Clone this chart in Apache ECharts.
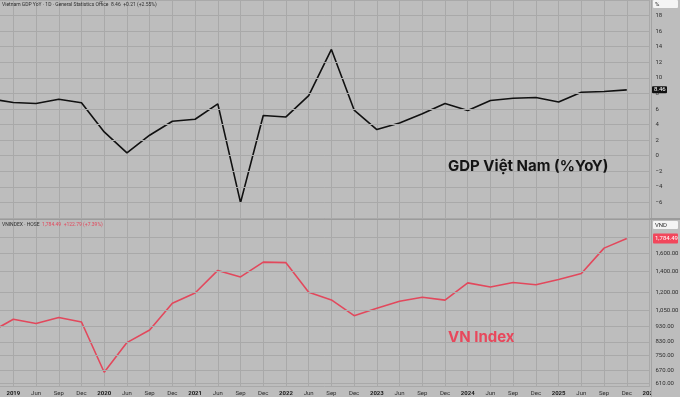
<!DOCTYPE html>
<html>
<head>
<meta charset="utf-8">
<title>GDP Việt Nam - VN Index</title>
<script src="https://cdn.jsdelivr.net/npm/echarts@6/dist/echarts.min.js"></script>
<style>
  html, body { margin: 0; padding: 0; background: #bdbdbd; }
  #main { width: 680px; height: 397px; }
</style>
</head>
<body>
<div id="main"></div>
<script>
// quarterly bars, first one sits just off the left edge
var quarters = ['Dec 2018',
  'Mar 2019', 'Jun 2019', 'Sep 2019', 'Dec 2019',
  'Mar 2020', 'Jun 2020', 'Sep 2020', 'Dec 2020',
  'Mar 2021', 'Jun 2021', 'Sep 2021', 'Dec 2021',
  'Mar 2022', 'Jun 2022', 'Sep 2022', 'Dec 2022',
  'Mar 2023', 'Jun 2023', 'Sep 2023', 'Dec 2023',
  'Mar 2024', 'Jun 2024', 'Sep 2024', 'Dec 2024',
  'Mar 2025', 'Jun 2025', 'Sep 2025', 'Dec 2025',
  'Mar 2026'];

// GDP YoY, %
var gdpYoY = [7.31,
  6.83, 6.70, 7.25, 6.80,
  3.06, 0.36, 2.63, 4.43,
  4.68, 6.65, -6.02, 5.16,
  4.98, 7.72, 13.65, 5.86,
  3.36, 4.21, 5.40, 6.70,
  5.80, 7.09, 7.38, 7.47,
  6.91, 8.15, 8.25, 8.46,
  null];

// VN-Index close per quarter
var vnIndex = [892.5,
  980.8, 949.9, 994.2, 961.0,
  662.3, 825.0, 905.2, 1103.9,
  1191.4, 1408.6, 1342.1, 1498.3,
  1492.2, 1197.6, 1132.1, 1007.1,
  1064.6, 1120.2, 1154.2, 1129.9,
  1284.1, 1245.3, 1287.9, 1266.8,
  1317.5, 1376.1, 1661.7, 1784.49,
  null];

var vnTicks = [610, 670, 750, 830, 930, 1050, 1200, 1400, 1600, 1800];

var gdpLast = 8.46, vnLast = 1784.49;

var gridColor = '#a9a9a9';
var textColor = '#2e2e2e';
var redColor = '#e2485c';
var fontFamily = 'Roboto, "Noto Sans", sans-serif';

function fmt2(v) {
    return v.toFixed(2).replace(/\B(?=(\d{3})+(?!\d))/g, ',');
}

function quarterLabel(v) {
    var p = v.split(' ');
    if (p[0] == 'Mar') {
        return '{y|' + p[1] + '}';
    }
    return p[0];
}

function xAxisFor(grid, withLabels) {
    return {
        type: 'category',
        gridIndex: grid,
        data: quarters,
        boundaryGap: false,
        axisTick: { show: false },
        axisLine: { show: withLabels, lineStyle: { color: gridColor } },
        axisLabel: {
            show: withLabels,
            interval: 0,
            margin: 4,
            fontSize: 6,
            color: textColor,
            fontFamily: fontFamily,
            formatter: quarterLabel,
            rich: { y: { fontSize: 6, fontWeight: 'bold', color: '#1a1a1a', fontFamily: fontFamily } }
        },
        splitLine: { show: true, interval: 0, lineStyle: { color: gridColor, width: 1 } }
    };
}

var chart = echarts.init(document.getElementById('main'));

var option = {
    animation: false,
    backgroundColor: '#bdbdbd',
    grid: [
        { left: -9.4, top: 0, width: 658.9, height: 218, containLabel: false, outerBoundsMode: 'none' },
        { left: -9.4, top: 220, width: 658.9, height: 166, containLabel: false, outerBoundsMode: 'none' }
    ],
    xAxis: [xAxisFor(0, false), xAxisFor(1, true)],
    yAxis: [
        {
            type: 'value',
            gridIndex: 0,
            position: 'right',
            z: 10,
            min: -8,
            max: 20,
            interval: 2,
            axisLine: { show: false },
            axisTick: { show: false },
            axisLabel: {
                margin: 6,
                fontSize: 6,
                color: textColor,
                fontFamily: fontFamily,
                showMinLabel: false,
                showMaxLabel: false,
                formatter: function(v) { return String(v).replace('-', '\u2212'); }
            },
            splitLine: { lineStyle: { color: gridColor, width: 1 } }
        },
        {
            type: 'log',
            gridIndex: 1,
            position: 'right',
            z: 10,
            min: 598,
            max: 2047,
            axisLine: { show: false },
            axisTick: { show: false, customValues: vnTicks },
            axisLabel: {
                margin: 6,
                fontSize: 6,
                color: textColor,
                fontFamily: fontFamily,
                customValues: vnTicks,
                formatter: function(v) { return fmt2(v); }
            },
            splitLine: { lineStyle: { color: gridColor, width: 1 } }
        }
    ],
    series: [
        {
            name: 'GDP YoY',
            type: 'line',
            xAxisIndex: 0,
            yAxisIndex: 0,
            data: gdpYoY,
            showSymbol: false,
            silent: true,
            lineStyle: { color: '#111', width: 1.6 }
        },
        {
            name: 'VNINDEX',
            type: 'line',
            xAxisIndex: 1,
            yAxisIndex: 1,
            data: vnIndex,
            showSymbol: false,
            silent: true,
            lineStyle: { color: redColor, width: 1.6 }
        }
    ]
};
chart.setOption(option);

// price tags sit on the right scale at the last value
var yGdp = chart.convertToPixel({ yAxisIndex: 0 }, gdpLast);
var yVn = chart.convertToPixel({ yAxisIndex: 1 }, vnLast);

function tag(x, y, w, h, fill, text, color) {
    return [
        { type: 'rect', z: 20, shape: { x: x, y: y, width: w, height: h, r: 1 }, style: { fill: fill } },
        { type: 'text', z: 21, x: x + 2, y: y + h / 2, style: { text: text, fill: color, fontSize: 6, fontFamily: fontFamily, verticalAlign: 'middle' } }
    ];
}

var graphics = [
    // right price scale panel, hides the clipped year label
    { type: 'rect', z: 5, shape: { x: 651, y: 0, width: 29, height: 397 }, style: { fill: '#bdbdbd' } },
    { type: 'line', z: 6, shape: { x1: 651.5, y1: 0, x2: 651.5, y2: 397 }, style: { stroke: '#a3a3a3', lineWidth: 1 } },
    // pane separator
    { type: 'line', z: 6, shape: { x1: 0, y1: 219, x2: 680, y2: 219 }, style: { stroke: '#9b9b9b', lineWidth: 2 } },
    // legends top-left of each pane
    {
        type: 'text', z: 20, x: 2, y: 5,
        style: {
            text: 'Vietnam GDP YoY \u00b7 1D \u00b7 General Statistics Office  8.46  +0.21 (+2.55%)',
            fill: textColor, fontSize: 5, fontFamily: fontFamily, verticalAlign: 'middle'
        }
    },
    {
        type: 'text', z: 20, x: 2, y: 224.5,
        style: {
            text: '{a|VNINDEX \u00b7 HOSE}  {b|1,784.49  +122.79 (+7.39%)}',
            fontSize: 5, fontFamily: fontFamily, verticalAlign: 'middle',
            rich: {
                a: { fill: textColor, fontSize: 5, fontFamily: fontFamily },
                b: { fill: redColor, fontSize: 5, fontFamily: fontFamily }
            }
        }
    },
    // chart captions
    {
        type: 'text', z: 20, x: 448, y: 166,
        style: { text: 'GDP Việt Nam (%YoY)', fill: '#141414', fontSize: 15, fontWeight: 'bold', fontFamily: 'Inter, Roboto, sans-serif', verticalAlign: 'middle' }
    },
    {
        type: 'text', z: 20, x: 448, y: 337,
        style: { text: 'VN Index', fill: '#e8485c', fontSize: 15, fontWeight: 'bold', fontFamily: 'Inter, Roboto, sans-serif', verticalAlign: 'middle' }
    }
]
.concat(tag(653, 0, 25, 8, '#f4f4f4', '%', textColor))
.concat(tag(653, 221, 25, 8, '#f4f4f4', 'VND', textColor))
.concat(tag(653, yVn - 5, 25, 10, '#f2475c', fmt2(vnLast), '#fff'))
.concat(tag(652, yGdp - 3.5, 15, 7, '#111', gdpLast.toFixed(2), '#fff'));

chart.setOption({ graphic: graphics });
</script>
</body>
</html>
